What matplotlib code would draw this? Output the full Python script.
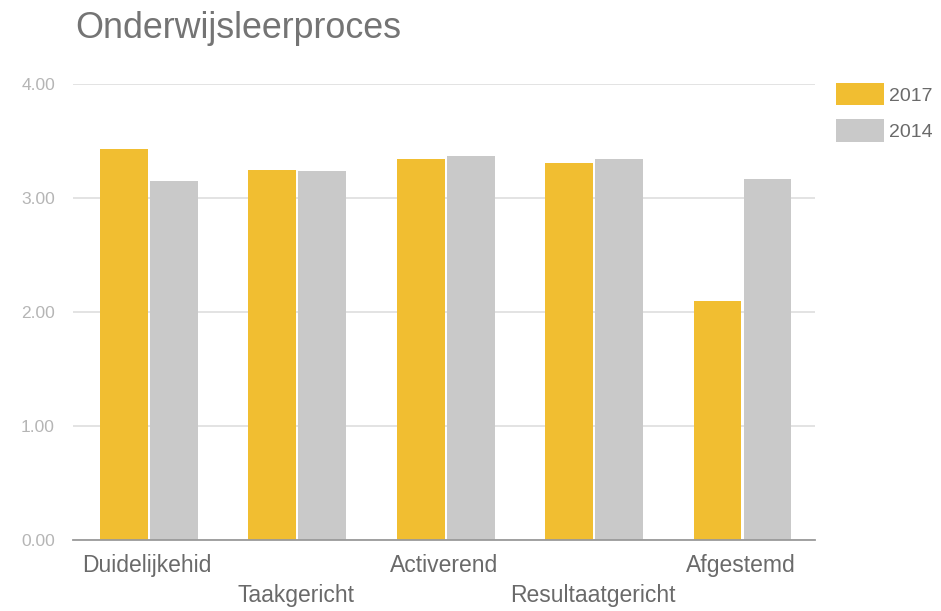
import matplotlib
matplotlib.use("Agg")
import matplotlib.pyplot as plt
import numpy as np

categories = ["Duidelijkehid", "Taakgericht", "Activerend", "Resultaatgericht", "Afgestemd"]
values_2017 = [3.43, 3.25, 3.34, 3.31, 2.10]
values_2014 = [3.15, 3.24, 3.37, 3.34, 3.17]
series_labels = ["2017", "2014"]
yticks = [0.0, 1.0, 2.0, 3.0, 4.0]

plt.rcParams['font.family'] = ['Liberation Sans', 'DejaVu Sans']

fig = plt.figure(figsize=(9.41, 6.11), dpi=100)
ax = fig.add_axes([73/941, 1-540/611, (815-73)/941, (540-84)/611])

x = np.arange(len(categories))
w = 0.323
ax.bar(x - 0.157, values_2017, width=w, color="#F1BE31", label=series_labels[0], zorder=3)
ax.bar(x + 0.180, values_2014, width=w, color="#C9C9C9", label=series_labels[1], zorder=3)

ax.set_xlim(-0.5, len(categories) - 0.5)
ax.set_ylim(0, 4.0)
ax.set_yticks(yticks)
ax.set_yticklabels([f"{v:.2f}" for v in yticks], color="#B5B5B5", fontsize=12.5)
ax.yaxis.grid(True, color="#DEDEDE", linewidth=1.2, zorder=0)
ax.set_axisbelow(True)
for s in ["top", "right", "left"]:
    ax.spines[s].set_visible(False)
ax.spines["bottom"].set_color("#9A9A9A")
ax.spines["bottom"].set_linewidth(1.3)
ax.spines["bottom"].set_zorder(4)
ax.tick_params(axis="y", length=0, pad=13)
ax.tick_params(axis="x", length=0)

ax.set_xticks(x)
ax.set_xticklabels(categories, fontsize=16.5, color="#6A6A6A")
for i, t in enumerate(ax.xaxis.get_major_ticks()):
    t.set_pad(10 if i % 2 == 0 else 32)

fig.text(75/941, 1-29/611, "Onderwijsleerproces", fontsize=25.8, color="#747474",
         va="center", ha="left")

leg = ax.legend(loc="upper left", bbox_to_anchor=(836/941, 1-83/611),
                bbox_transform=fig.transFigure, frameon=False, fontsize=14,
                handlelength=2.45, handleheight=1.4, labelspacing=0.72,
                handletextpad=0.25, borderaxespad=0, borderpad=0)
for t in leg.get_texts():
    t.set_color("#6A6A6A")

fig.savefig("out.png", dpi=100)
